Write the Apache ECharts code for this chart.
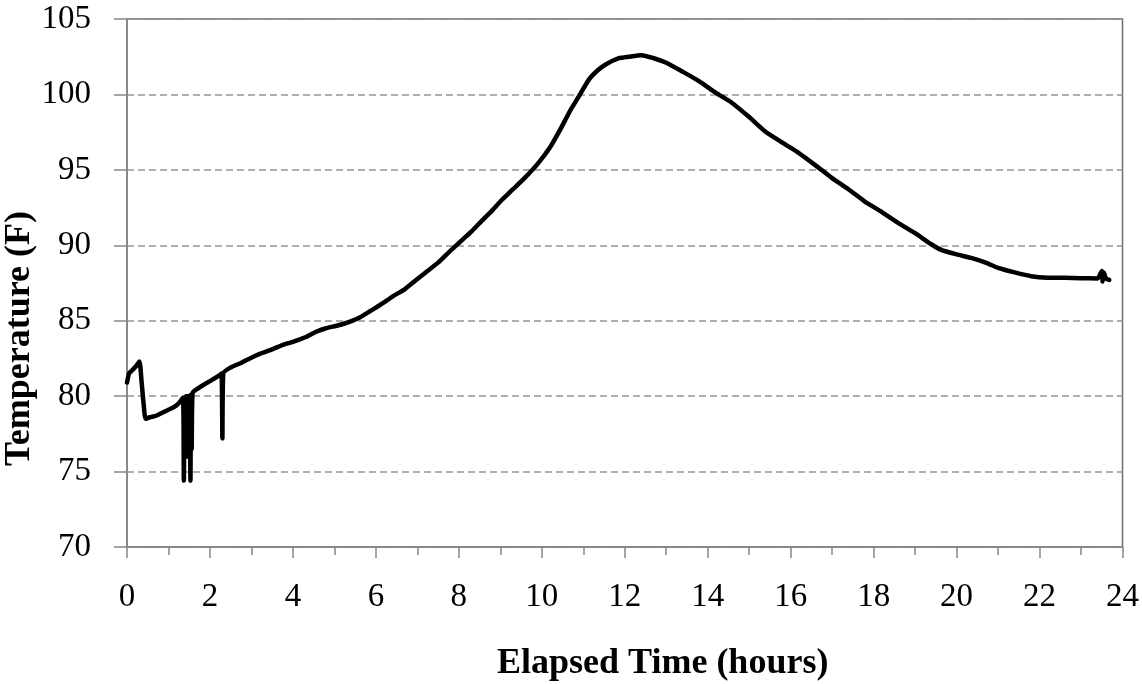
<!DOCTYPE html>
<html>
<head>
<meta charset="utf-8">
<script src="https://cdn.jsdelivr.net/npm/echarts@6/dist/echarts.min.js"></script>
<style>
html,body{margin:0;padding:0;background:#fff;}
#chart{width:1142px;height:684px;}
</style>
</head>
<body>
<div id="chart"></div>
<script>
// Elapsed time (hours)
var timeHours = [
  0.00, 0.05, 0.12, 0.22, 0.30, 0.35, 0.40, 0.45, 0.55, 0.70,
  0.85, 1.00, 1.15, 1.27, 1.35, 1.37, 1.39, 1.41, 1.42, 1.44,
  1.45, 1.47, 1.48, 1.50, 1.51, 1.53, 1.54, 1.56, 1.58, 1.76,
  2.00, 2.24, 2.28, 2.30, 2.32, 2.50, 2.75, 2.96, 3.20, 3.50,
  3.76, 4.00, 4.30, 4.56, 4.80, 5.10, 5.36, 5.60, 5.90, 6.16,
  6.40, 6.70, 6.97, 7.20, 7.50, 7.77, 8.00, 8.30, 8.57, 8.80,
  9.00, 9.30, 9.60, 9.90, 10.20, 10.45, 10.70, 10.90, 11.14, 11.35,
  11.55, 11.86, 12.10, 12.40, 12.70, 13.00, 13.40, 13.78, 14.20, 14.58,
  15.00, 15.38, 15.80, 16.19, 16.60, 16.99, 17.40, 17.79, 18.20, 18.59,
  19.00, 19.39, 19.63, 20.00, 20.35, 20.70, 21.00, 21.40, 21.80, 22.20,
  22.60, 23.00, 23.40, 23.50, 23.52, 23.55, 23.60, 23.68
];
// Temperature (F)
var temperatureF = [
  80.9, 81.5, 81.7, 82.0, 82.3, 81.0, 79.5, 78.5, 78.6, 78.7,
  78.9, 79.1, 79.3, 79.6, 79.9, 74.4, 79.9, 76.2, 80.0, 76.0,
  80.0, 76.0, 80.0, 76.2, 80.0, 74.4, 80.1, 76.5, 80.2, 80.6,
  81.0, 81.4, 81.5, 77.2, 81.5, 81.9, 82.2, 82.5, 82.8, 83.1,
  83.4, 83.6, 83.9, 84.27, 84.5, 84.7, 84.93, 85.2, 85.7, 86.15,
  86.6, 87.1, 87.7, 88.2, 88.85, 89.57, 90.15, 90.9, 91.67, 92.3,
  92.9, 93.7, 94.5, 95.4, 96.5, 97.7, 99.0, 99.9, 101.0, 101.6,
  102.0, 102.4, 102.5, 102.6, 102.4, 102.1, 101.5, 100.9, 100.1, 99.45,
  98.5, 97.56, 96.8, 96.13, 95.3, 94.47, 93.7, 92.9, 92.2, 91.48,
  90.8, 90.07, 89.7, 89.4, 89.16, 88.85, 88.5, 88.2, 87.95, 87.85,
  87.84, 87.82, 87.8, 88.3, 87.6, 88.2, 87.8, 87.7
];
var xTitle = 'Elapsed Time (hours)';
var yTitle = 'Temperature (F)';

var seriesData = timeHours.map(function (t, i) { return [t, temperatureF[i]]; });

var chart = echarts.init(document.getElementById('chart'));
var font = "'Liberation Serif', 'Times New Roman', serif";
var axisGrey = '#868686';
chart.setOption({
  animation: false,
  backgroundColor: '#ffffff',
  grid: {
    left: 127, right: 17, top: 19, bottom: 137,
    show: true, borderColor: '#6e6e6e', borderWidth: 1.5, backgroundColor: 'transparent'
  },
  xAxis: {
    type: 'value', min: 0, max: 24, interval: 2,
    axisLine: { show: true, onZero: false, lineStyle: { color: axisGrey, width: 1.5 } },
    axisTick: { show: true, inside: false, length: 11, lineStyle: { color: axisGrey, width: 1.5 } },
    minorTick: { show: true, splitNumber: 2, length: 8, lineStyle: { color: axisGrey, width: 1.5 } },
    splitLine: { show: false },
    axisLabel: { color: '#000', fontFamily: font, fontSize: 33, margin: 34 }
  },
  yAxis: {
    type: 'value', min: 70, max: 105, interval: 5,
    axisLine: { show: true, lineStyle: { color: axisGrey, width: 1.5 } },
    axisTick: { show: true, inside: false, length: 13, lineStyle: { color: axisGrey, width: 1.5 } },
    splitLine: { show: true, lineStyle: { color: '#959595', width: 1.6, type: [7, 4] } },
    axisLabel: { color: '#000', fontFamily: font, fontSize: 33, margin: 36 }
  },
  graphic: [
    {
      type: 'text', left: 497, top: 646,
      style: { text: xTitle, fontFamily: font, fontSize: 36, fontWeight: 'bold', fill: '#000' }
    },
    {
      type: 'text', x: 2, y: 466, rotation: Math.PI / 2,
      style: { text: yTitle, fontFamily: font, fontSize: 36, fontWeight: 'bold', fill: '#000' }
    }
  ],
  series: [{
    type: 'line',
    data: seriesData,
    showSymbol: false,
    smooth: 0.2,
    lineStyle: { color: '#000', width: 4.5, join: 'round', cap: 'round' },
    z: 3
  }]
});
</script>
</body>
</html>
